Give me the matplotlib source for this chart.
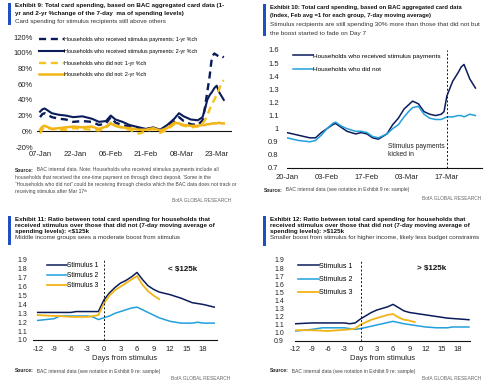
import numpy as np
import pandas as pd
import matplotlib
matplotlib.use('Agg')
import matplotlib.pyplot as plt

plt.rcParams['font.family'] = ['Liberation Sans', 'DejaVu Sans']

NAVY = '#0b1c5a'
CYAN = '#22a0dc'
GOLD = '#f2b416'
BAR = '#1f4fc2'

# ---- Exhibit 9 data (% change) ----
ex9_dates = ['2021-01-07', '2021-01-08', '2021-01-09', '2021-01-12', '2021-01-15', '2021-01-18',
             '2021-01-21', '2021-01-25', '2021-01-29', '2021-02-01', '2021-02-04', '2021-02-06',
             '2021-02-08', '2021-02-11', '2021-02-14', '2021-02-18', '2021-02-21', '2021-02-24',
             '2021-02-27', '2021-03-02', '2021-03-05', '2021-03-07', '2021-03-09', '2021-03-12',
             '2021-03-15', '2021-03-17', '2021-03-18', '2021-03-19', '2021-03-20', '2021-03-21',
             '2021-03-22', '2021-03-23', '2021-03-24', '2021-03-25', '2021-03-26']
recv_1yr = [18, 22, 23, 18, 16, 15, 12, 13, 12, 8, 10, 18, 11, 8, 6, 4, 3, 4, 1, 6, 13, 18, 13, 9, 8,
            14, 30, 50, 70, 95, 99, 97, 95, 96, 94]
recv_2yr = [25, 28, 29, 23, 21, 20, 18, 19, 16, 12, 13, 20, 15, 12, 8, 5, 3, 5, 2, 8, 16, 23, 19, 15,
            14, 18, 28, 40, 46, 50, 55, 58, 50, 45, 40]
didnot_1yr = [-3, 3, 5, 3, 2, 2, 4, 3, 2, 1, 4, 11, 7, 4, 2, -3, 0, 3, -2, 2, 9, 9, 7, 5, 6, 10, 14,
              20, 28, 35, 40, 47, 53, 62, 65]
didnot_2yr = [2, 6, 7, 3, 4, 5, 6, 5, 6, 3, 6, 10, 7, 5, 4, 2, 2, 4, 1, 4, 11, 10, 8, 7, 7, 8, 8, 9,
              9, 10, 10, 10, 11, 10, 10]
ex9_ticks = ['2021-01-07', '2021-01-22', '2021-02-06', '2021-02-21', '2021-03-08', '2021-03-23']

# ---- Exhibit 10 data (index) ----
ex10_dates = ['2021-01-20', '2021-01-24', '2021-01-28', '2021-01-30', '2021-02-01', '2021-02-03',
              '2021-02-05', '2021-02-06', '2021-02-08', '2021-02-10', '2021-02-13', '2021-02-15',
              '2021-02-17', '2021-02-19', '2021-02-21', '2021-02-24', '2021-02-26', '2021-02-28',
              '2021-03-02', '2021-03-04', '2021-03-05', '2021-03-07', '2021-03-09', '2021-03-11',
              '2021-03-13', '2021-03-15', '2021-03-16', '2021-03-17', '2021-03-19', '2021-03-21',
              '2021-03-22', '2021-03-23', '2021-03-25', '2021-03-27']
recv_idx = [0.97, 0.95, 0.93, 0.93, 0.97, 1.00, 1.03, 1.04, 1.01, 0.98, 0.96, 0.97, 0.96, 0.93, 0.92,
            0.96, 1.03, 1.08, 1.15, 1.19, 1.21, 1.19, 1.13, 1.11, 1.10, 1.11, 1.13, 1.25, 1.36, 1.43,
            1.47, 1.49, 1.38, 1.31]
didnot_idx = [0.93, 0.91, 0.90, 0.91, 0.95, 1.00, 1.04, 1.05, 1.02, 1.00, 0.98, 0.98, 0.97, 0.94, 0.93,
              0.96, 1.00, 1.03, 1.09, 1.14, 1.16, 1.17, 1.11, 1.08, 1.07, 1.07, 1.08, 1.09, 1.09, 1.10,
              1.10, 1.09, 1.11, 1.10]
ex10_ticks = ['2021-01-20', '2021-02-03', '2021-02-17', '2021-03-03', '2021-03-17']

# ---- Exhibit 11 data (< $125k) ----
low_d1 = [-12, -9, -6, -5, -3, -1, 0, 1, 2, 3, 4, 5, 6, 7, 8, 9, 10, 12, 14, 16, 18, 20]
low_s1 = [1.31, 1.31, 1.31, 1.32, 1.32, 1.32, 1.45, 1.53, 1.59, 1.64, 1.67, 1.71, 1.76, 1.68, 1.61,
          1.57, 1.54, 1.51, 1.47, 1.42, 1.40, 1.37]
low_d2 = [-12, -9, -8, -6, -3, -2, -1, 0, 1, 2, 3, 4, 5, 6, 7, 8, 9, 10, 12, 14, 16, 17, 18, 20]
low_s2 = [1.22, 1.24, 1.27, 1.27, 1.27, 1.26, 1.23, 1.25, 1.27, 1.30, 1.32, 1.34, 1.36, 1.37, 1.34,
          1.31, 1.28, 1.25, 1.21, 1.19, 1.19, 1.20, 1.19, 1.19]
low_d3 = [-12, -9, -8, -6, -3, -2, -1, 0, 1, 2, 3, 4, 5, 6, 7, 8, 9, 10]
low_s3 = [1.28, 1.27, 1.27, 1.26, 1.26, 1.27, 1.28, 1.41, 1.50, 1.56, 1.60, 1.64, 1.68, 1.72, 1.62,
          1.55, 1.50, 1.46]

# ---- Exhibit 12 data (> $125k) ----
high_d1 = [-12, -9, -6, -3, -2, -1, 0, 1, 2, 3, 4, 5, 6, 7, 8, 9, 10, 12, 14, 16, 18, 20]
high_s1 = [1.11, 1.12, 1.12, 1.12, 1.11, 1.12, 1.17, 1.21, 1.25, 1.28, 1.30, 1.32, 1.35, 1.31, 1.27,
           1.25, 1.24, 1.22, 1.20, 1.18, 1.17, 1.16]
high_d2 = [-12, -9, -7, -5, -3, -2, -1, 0, 2, 4, 6, 8, 10, 12, 14, 16, 17, 20]
high_s2 = [1.02, 1.04, 1.06, 1.06, 1.06, 1.05, 1.04, 1.05, 1.08, 1.11, 1.14, 1.11, 1.09, 1.07, 1.06,
           1.06, 1.07, 1.07]
high_d3 = [-12, -9, -6, -4, -2, -1, 0, 1, 2, 3, 4, 5, 6, 7, 8, 9, 10]
high_s3 = [1.03, 1.03, 1.02, 1.03, 1.04, 1.05, 1.10, 1.13, 1.16, 1.18, 1.20, 1.22, 1.23, 1.19, 1.16,
           1.15, 1.13]

day_ticks = [-12, -9, -6, -3, 0, 3, 6, 9, 12, 15, 18]

W, H = 500, 385
fig = plt.figure(figsize=(W / 100, H / 100), dpi=100)
canvas = fig.add_axes([0, 0, 1, 1])
canvas.axis('off')
canvas.set_xlim(0, W)
canvas.set_ylim(H, 0)


def add_axes(x0, y0, x1, y1):
    ax = fig.add_axes([x0 / W, 1 - y1 / H, (x1 - x0) / W, (y1 - y0) / H])
    for s in ['top', 'right', 'left', 'bottom']:
        ax.spines[s].set_visible(False)
    ax.tick_params(length=0, labelsize=5.5, colors='#222222')
    ax.set_facecolor('none')
    return ax


def header(x, y, bar_y1, title_lines, sub_lines, tsize, ssize, gap):
    canvas.add_patch(plt.Rectangle((x - 7, y - 3.5), 2.8, bar_y1 - y + 3.5, color=BAR, lw=0))
    yy = y
    for line in title_lines:
        canvas.text(x, yy, line, fontsize=tsize, fontweight='bold', color='#111111', va='center')
        yy += gap
    for line in sub_lines:
        canvas.text(x, yy, line, fontsize=ssize, color='#333333', va='center')
        yy += gap


def source(x, y, rest, size=3.6):
    t = canvas.text(x, y, 'Source:', fontsize=size, fontweight='bold', color='#222222', va='center')
    canvas.annotate('  ' + rest, xy=(1, 0.5), xycoords=t, va='center', fontsize=size, color='#444444')


def bofa(x, y):
    canvas.text(x, y, 'BofA GLOBAL RESEARCH', fontsize=3.5, color='#666666', ha='right', va='center')


def bottom_line(ax):
    ax.spines['bottom'].set_visible(True)
    ax.spines['bottom'].set_color('#111111')
    ax.spines['bottom'].set_linewidth(0.8)


# ================= Exhibit 9 =================
header(15, 6, 25,
       ['Exhibit 9: Total card spending, based on BAC aggregated card data (1-',
        'yr and 2-yr %change of the 7-day  ma of spending levels)'],
       ['Card spending for stimulus recipients still above others'], 4.5, 4.5, 7.5)
ax1 = add_axes(37, 37, 232, 147)
d9 = pd.to_datetime(ex9_dates)
ax1.plot(d9, recv_1yr, color=NAVY, lw=1.7, ls=(0, (3, 2)),
         label='Households who received stimulus payments: 1-yr %ch')
ax1.plot(d9, recv_2yr, color=NAVY, lw=1.5, label='Households who received stimulus payments: 2-yr %ch')
ax1.plot(d9, didnot_1yr, color='#f6c21c', lw=1.7, ls=(0, (3, 2)), label='Households who did not: 1-yr %ch')
ax1.plot(d9, didnot_2yr, color=GOLD, lw=1.8, label='Households who did not: 2-yr %ch')
ax1.axhline(0, color='#111111', lw=0.8, zorder=0)
ax1.set_ylim(-20, 120)
ax1.set_yticks(range(-20, 121, 20))
ax1.set_yticklabels([f'{v}%' for v in range(-20, 121, 20)])
x0 = pd.Timestamp('2021-01-07')
ax1.set_xlim(x0 - pd.Timedelta(days=1.3), x0 + pd.Timedelta(days=81.5))
t9 = pd.to_datetime(ex9_ticks)
ax1.set_xticks(t9)
ax1.set_xticklabels([d.strftime('%d-%b') for d in t9])
ax1.tick_params(axis='y', pad=3)
ax1.tick_params(axis='x', pad=3)
ax1.legend(loc='upper left', bbox_to_anchor=(0.0, 1.02), frameon=False, fontsize=3.9,
           handlelength=4.5, handletextpad=0.1, labelspacing=1.25, borderaxespad=0)
source(15, 170, 'BAC internal data. Note: Households who received stimulus payments include all')
for i, ln in enumerate(['households that received the one-time payment on through direct deposit. \u2018Some in the',
                        '\u201cHouseholds who did not\u201d could be receiving through checks which the BAC data does not track or',
                        'receiving stimulus after Mar 17\u1d57\u02b0']):
    canvas.text(15, 177 + 7.3 * i, ln, fontsize=3.6, color='#444444', va='center')
bofa(231, 200)

# ================= Exhibit 10 =================
header(270, 7, 36,
       ['Exhibit 10: Total card spending, based on BAC aggregated card data',
        '(Index, Feb avg =1 for each group, 7-day moving average)'],
       ['Stimulus recipients are still spending 30% more than those that did not but',
        'the boost started to fade on Day 7'], 4.25, 4.6, 8.7)
ax2 = add_axes(287, 50, 482, 168)
d10 = pd.to_datetime(ex10_dates)
ax2.plot(d10, recv_idx, color=NAVY, lw=1.1, label='Households who received stimulus payments')
ax2.plot(d10, didnot_idx, color=CYAN, lw=1.1, label='Households who did not')
x0 = pd.Timestamp('2021-01-20')
ax2.set_xlim(x0, x0 + pd.Timedelta(days=68.3))
ax2.set_ylim(0.7, 1.6)
yt = np.round(np.arange(0.7, 1.61, 0.1), 1)
ax2.set_yticks(yt)
ax2.set_yticklabels([f'{v:g}' for v in yt])
t10 = pd.to_datetime(ex10_ticks)
ax2.set_xticks(t10)
ax2.set_xticklabels([d.strftime('%d-%b') for d in t10])
bottom_line(ax2)
ax2.axvline(pd.Timestamp('2021-03-17'), color='#111111', lw=0.7, ls=(0, (2, 2)))
ax2.text(pd.Timestamp('2021-02-24 12:00'), 0.835, 'Stimulus payments\nkicked in', fontsize=4.8,
         color='#222222', va='center', linespacing=1.3)
ax2.tick_params(axis='y', pad=6)
ax2.tick_params(axis='x', pad=4)
ax2.legend(loc='upper left', bbox_to_anchor=(0.02, 0.995), frameon=False, fontsize=4.6,
           handlelength=3.0, handletextpad=0.05, labelspacing=1.3, borderaxespad=0)
source(264, 190, 'BAC internal data (see notation in Exhibit 9 re: sample)')
bofa(481, 199)

# ================= Exhibit 11 =================
header(15, 219, 245,
       ['Exhibit 11: Ratio between total card spending for households that',
        'received stimulus over those that did not (7-day moving average of',
        'spending levels): <$125k'],
       ['Middle income groups sees a moderate boost from stimulus'], 4.5, 4.5, 6)
ax3 = add_axes(33, 260, 217, 340)
ax3.plot(low_d1, low_s1, color=NAVY, lw=1.1, label='Stimulus 1')
ax3.plot(low_d2, low_s2, color=CYAN, lw=1.1, label='Stimulus 2')
ax3.plot(low_d3, low_s3, color=GOLD, lw=1.3, label='Stimulus 3')
ax3.set_xlim(-12.85, 20.5)
ax3.set_ylim(1.0, 1.9)
yt = np.round(np.arange(1.0, 1.91, 0.1), 1)
ax3.set_yticks(yt)
ax3.set_yticklabels([f'{v:.1f}' for v in yt])
ax3.set_xticks(day_ticks)
ax3.set_xticklabels([str(v) for v in day_ticks])
bottom_line(ax3)
ax3.axvline(0, color='#111111', lw=0.7, ls=(0, (2, 2)))
ax3.set_xlabel('Days from stimulus', fontsize=5.5, labelpad=1.5, color='#222222')
ax3.text(11.7, 1.79, '< $125k', fontsize=5.8, fontweight='bold', color='#111111', va='center')
ax3.tick_params(axis='y', pad=4, labelsize=5.0)
ax3.tick_params(axis='x', pad=4)
ax3.legend(loc='upper left', bbox_to_anchor=(0.06, 1.01), frameon=False, fontsize=4.8,
           handlelength=3.0, handletextpad=0.05, labelspacing=0.45, borderaxespad=0)
source(15, 371, 'BAC internal data (see notation in Exhibit 9 re: sample)')
bofa(230, 379)

# ================= Exhibit 12 =================
header(270, 219, 246,
       ['Exhibit 12: Ratio between total card spending for households that',
        'received stimulus over those that did not (7-day moving average of',
        'spending levels): >$125k'],
       ['Smaller boost from stimulus for higher income, likely less budget constraints'], 4.5, 4.5, 6)
ax4 = add_axes(295, 260, 470, 340.7)
ax4.plot(high_d1, high_s1, color=NAVY, lw=1.1, label='Stimulus 1')
ax4.plot(high_d2, high_s2, color=CYAN, lw=1.1, label='Stimulus 2')
ax4.plot(high_d3, high_s3, color=GOLD, lw=1.3, label='Stimulus 3')
ax4.set_xlim(-12.1, 20.2)
ax4.set_ylim(0.9, 1.9)
yt = np.round(np.arange(0.9, 1.91, 0.1), 1)
ax4.set_yticks(yt)
ax4.set_yticklabels([f'{v:.1f}' for v in yt])
ax4.set_xticks(day_ticks)
ax4.set_xticklabels([str(v) for v in day_ticks])
bottom_line(ax4)
ax4.axvline(0, color='#111111', lw=0.7, ls=(0, (2, 2)))
ax4.set_xlabel('Days from stimulus', fontsize=5.5, labelpad=1.5, color='#222222')
ax4.text(10.5, 1.79, '> $125k', fontsize=5.8, fontweight='bold', color='#111111', va='center')
ax4.tick_params(axis='y', pad=8, labelsize=5.0)
ax4.tick_params(axis='x', pad=4)
ax4.legend(loc='upper left', bbox_to_anchor=(0.0, 1.0), frameon=False, fontsize=5.0,
           handlelength=3.0, handletextpad=0.05, labelspacing=0.9, borderaxespad=0)
source(270, 371, 'BAC internal data (see notation in Exhibit 9 re: sample)')
bofa(481, 379)

fig.savefig('out.png', dpi=100)
